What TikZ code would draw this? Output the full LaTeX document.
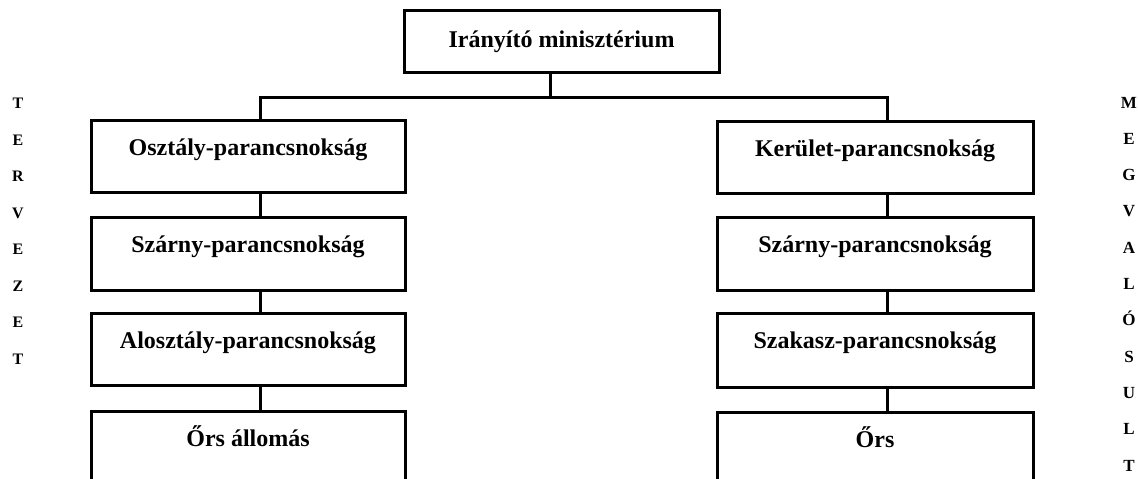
\documentclass[tikz,border=0pt]{standalone}
\usepackage{fontspec}
\setmainfont{Liberation Serif}
\begin{document}
\begin{tikzpicture}[x=1pt,y=-1pt,
  box/.style={draw, line width=3pt, inner sep=0pt, outer sep=0pt, minimum width=314pt,
    text height=35pt, text depth=37pt, font=\fontsize{24}{28}\selectfont\bfseries, anchor=north},
  conn/.style={line width=3pt},
  side/.style={font=\fontsize{16}{19}\selectfont\bfseries, inner sep=0pt, anchor=base},
  sider/.style={font=\fontsize{17}{20}\selectfont\bfseries, inner sep=0pt, anchor=base}]
\useasboundingbox (0,0) rectangle (1138,479);
\clip (0,0) rectangle (1138,479);
% top
\node[box, minimum width=315pt, text height=37pt, text depth=25pt] (min) at (561.5,10) {Irányító minisztérium};
% left column
\node[box] (osz) at (248,120) {Osztály-parancsnokság};
\node[box, text depth=38pt] (szl) at (248,217) {Szárny-parancsnokság};
\node[box] (alo) at (248,313) {Alosztály-parancsnokság};
\node[box] (ors1) at (248,411) {Őrs állomás};
% right column
\node[box, minimum width=316pt] (ker) at (875,121) {Kerület-parancsnokság};
\node[box, minimum width=316pt, text depth=38pt] (szr) at (875,217) {Szárny-parancsnokság};
\node[box, minimum width=316pt, text depth=39pt] (szk) at (875,313) {Szakasz-parancsnokság};
\node[box, minimum width=316pt] (ors2) at (875,412) {Őrs};
% connector guides
\coordinate (cx) at (550,0);
\coordinate (lx) at (260,0);
\coordinate (rx) at (887,0);
\coordinate (j) at (550,97);
\draw[conn] (min.south -| cx) -- (cx |- j);
\draw[conn] (osz.north -| lx) -- (lx |- j) -- (rx |- j) -- (ker.north -| rx);
\draw[conn] (osz.south -| lx) -- (szl.north -| lx);
\draw[conn] (szl.south -| lx) -- (alo.north -| lx);
\draw[conn] (alo.south -| lx) -- (ors1.north -| lx);
\draw[conn] (ker.south -| rx) -- (szr.north -| rx);
\draw[conn] (szr.south -| rx) -- (szk.north -| rx);
\draw[conn] (szk.south -| rx) -- (ors2.north -| rx);
% side letters
\foreach \l [count=\i] in {T,E,R,V,E,Z,E,T}
  \node[side] (left\i) at (18,{108.5+36.5*(\i-1)}) {\l};
\foreach \l [count=\i] in {M,E,G,V,A,L,Ó,S,U,L,T}
  \node[sider] (right\i) at (1129,{108+36.3*(\i-1)}) {\l};
\end{tikzpicture}
\end{document}
